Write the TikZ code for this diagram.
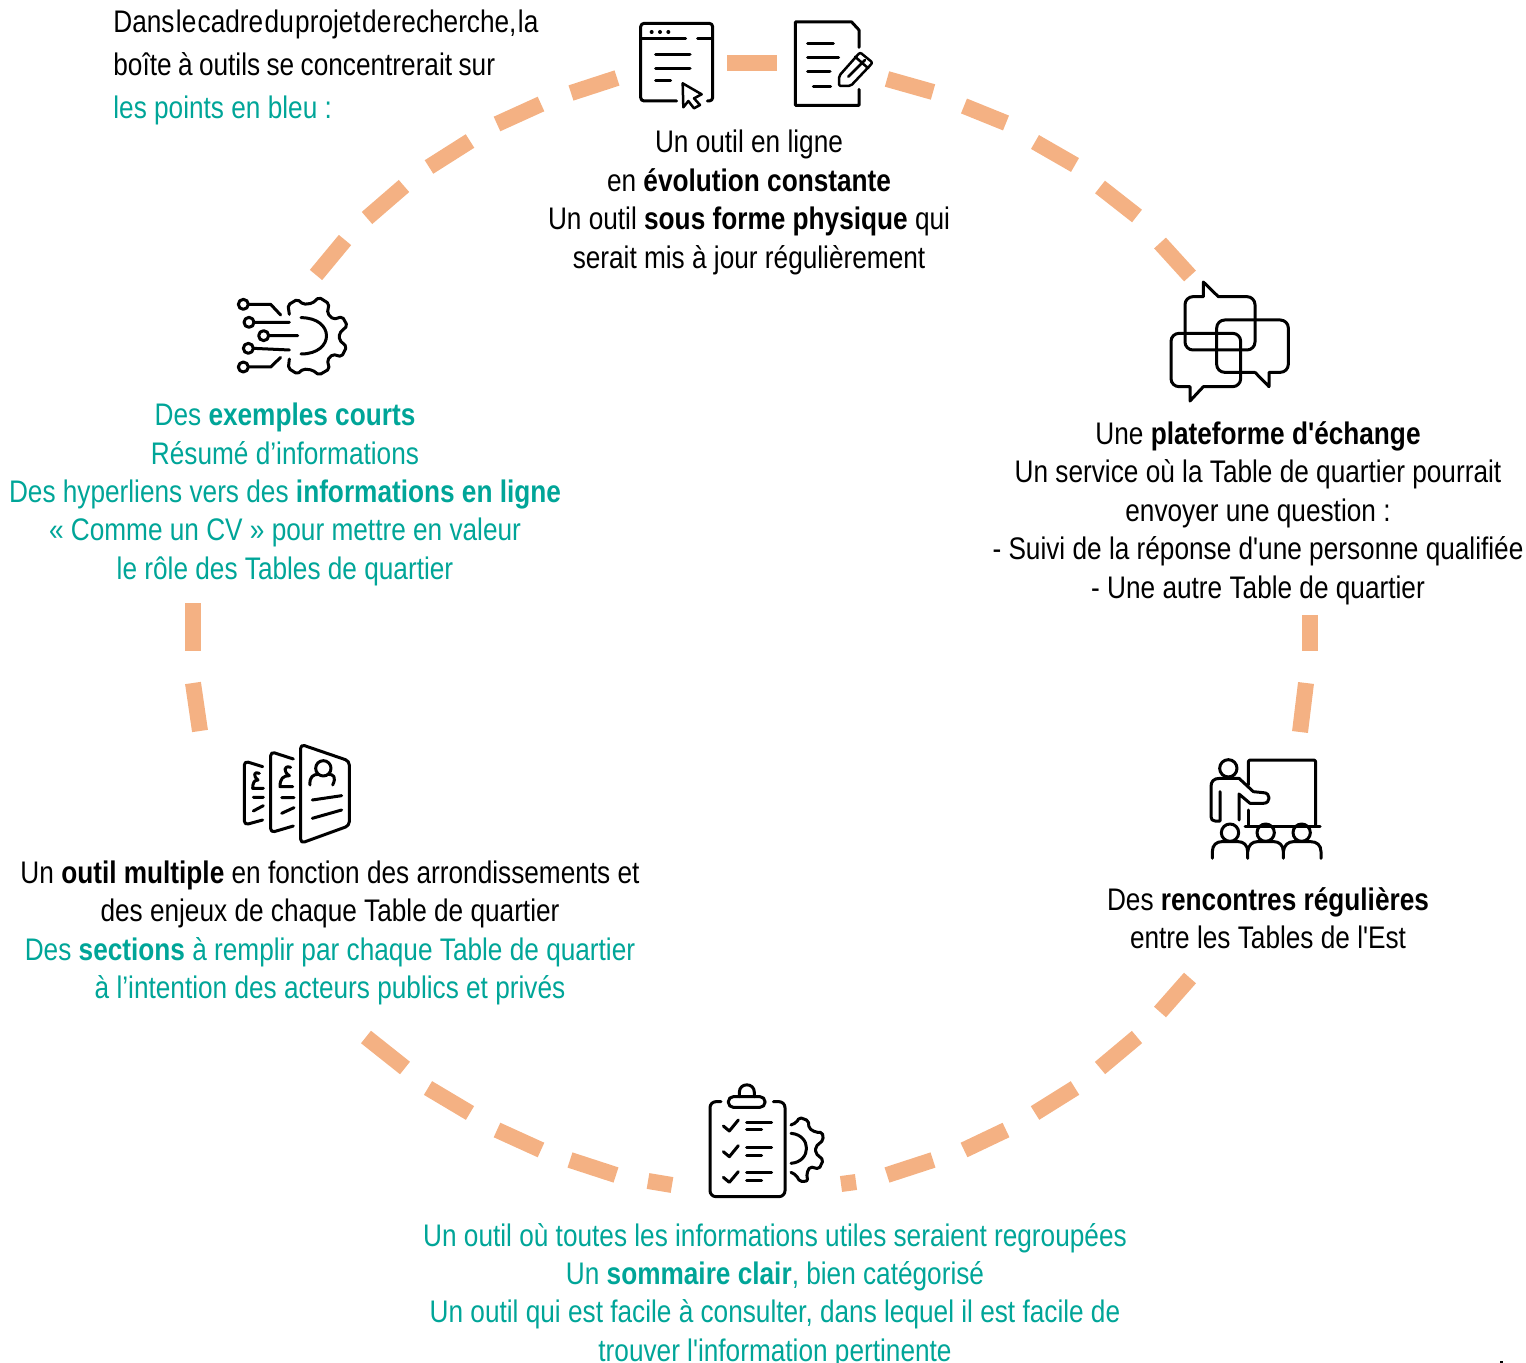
\documentclass[tikz,border=0pt]{standalone}
\usepackage{fontspec}
\setmainfont[FakeStretch=0.84,Ligatures=TeXOff]{Liberation Sans}
\definecolor{teal}{HTML}{00A598}
\definecolor{dashor}{HTML}{F4B183}
\tikzset{
  dashseg/.style={draw=dashor,line width=8pt},
  ico/.style={draw=black,line width=1.5pt,line join=round,line cap=round},
  icot/.style={draw=black,line width=1.25pt,line join=round,line cap=round},
  blocktxt/.style={inner sep=0pt,align=center,font=\fontsize{15.6}{19.2}\selectfont},
}
\begin{document}
\begin{tikzpicture}[x=0.5pt,y=-0.5pt]
\useasboundingbox (0,0) rectangle (1526,1363);
% dashes
\foreach \a/\b/\c/\d in {727/63/777/63, 887/79/933/92, 964/106/1006/123, 1035/142/1075/165, 1100/187/1137/216, 1160/243/1190/276,
  1310/615/1310/651, 1306/683/1300/732,
  1190/978/1160/1012, 1137/1037/1100/1068, 1075/1088/1035/1113, 1006/1130/964/1150, 933/1160/887/1175, 856/1182/841/1184,
  672/1185/648/1181, 616/1175/570/1160, 541/1150/497/1130, 470/1113/428/1088, 405/1068/366/1037,
  200/731/193/683, 193/651/193/603,
  316/275/345/240, 367/218/404/186, 429/167/470/141, 497/124/541/104, 571/93/617/78}
  {\path[dashseg] (\a,\b) -- (\c,\d);}
% texts
\node[blocktxt,anchor=west,align=left,font=\fontsize{15.6}{21.5}\selectfont] (intro) at (113,67.5) {{\spaceskip=0.7pt Dans le cadre du projet de recherche, la}\\{\spaceskip=3.2pt boîte à outils se concentrerait sur}\\\textcolor{teal}{les points en bleu :}};
\node[blocktxt] (top) at (749,202.5) {Un outil en ligne\\en \textbf{évolution constante}\\Un outil \textbf{sous forme physique} qui\\serait mis à jour régulièrement};
\node[blocktxt] (right) at (1258,513) {Une \textbf{plateforme d'échange}\\Un service où la Table de quartier pourrait\\envoyer une question :\\- Suivi de la réponse d'une personne qualifiée\\- Une autre Table de quartier};
\node[blocktxt,text=teal] (left) at (285,494.5) {Des \textbf{exemples courts}\\Résumé d’informations\\Des hyperliens vers des \textbf{informations en ligne}\\« Comme un CV » pour mettre en valeur\\le rôle des Tables de quartier};
\node[blocktxt] (lowleft) at (330,933) {Un \textbf{outil multiple} en fonction des arrondissements et\\des enjeux de chaque Table de quartier\\\textcolor{teal}{Des \textbf{sections} à remplir par chaque Table de quartier}\\\textcolor{teal}{à l’intention des acteurs publics et privés}};
\node[blocktxt] (lowright) at (1268,918) {Des \textbf{rencontres régulières}\\entre les Tables de l'Est};
\node[blocktxt,text=teal] (bottom) at (775,1295.5) {Un outil où toutes les informations utiles seraient regroupées\\Un \textbf{sommaire clair}, bien catégorisé\\Un outil qui est facile à consulter, dans lequel il est facile de\\trouver l'information pertinente};
% icon window + doc
\begin{scope}[shift={(620,0)},scale=0.33333]
 \path[ico,rounded corners=1.7pt] (170,303) -- (62,303) -- (62,70) -- (278,70) -- (278,303) -- (262,303);
 \path[ico] (66,115) -- (197,115) (233,115) -- (275,115);
 \fill (95,96) circle (6) (120,96) circle (6) (145,96) circle (6);
 \path[ico] (107,163) -- (210,163) (107,206) -- (210,206) (107,243) -- (152,243);
 \path[icot] (188,250) -- (245,283) -- (222,295) -- (240,315) -- (222,325) -- (205,303) -- (190,322) -- cycle;
 \path[ico] (717,142) -- (717,90) -- (695,66) -- (526,66) -- (526,316) -- (717,316) -- (717,268);
 \path[ico] (563,130) -- (640,130) (563,174) -- (656,174) (563,216) -- (630,216) (580,259) -- (632,259);
 \path[icot,rounded corners=1pt] (657,228) -- (720,157) -- (758,188) -- (692,258) -- (657,258) -- cycle;
 \path[icot] (685,230) -- (735,180) (705,170) -- (745,205);
\end{scope}
% icon chat
\begin{scope}[shift={(1150,270)},scale=0.33333]
 \path[ico] (160,80) -- (160,36) -- (205,80) [rounded corners=4pt] -- (315,80) -- (315,240) -- (105,240) -- (105,80) -- (160,80);
 \path[ico] (315,307) -- (357,350) -- (357,307) [rounded corners=4pt] -- (415,307) -- (415,150) -- (200,150) -- (200,307) -- (315,307);
 \path[ico] (120,350) -- (120,393) -- (160,350) [rounded corners=4pt] -- (272,350) -- (272,190) -- (63,190) -- (63,350) -- (120,350);
\end{scope}
% icon gear
\begin{scope}[shift={(220,285)},scale=0.33333]
 \foreach \p/\q in {70/58, 87/112, 131/152, 85/190, 70/246} {\path[ico] (\p,\q) circle (15);}
 \path[ico] (85,58) -- (152,58) -- (182,90) (102,112) -- (208,112) (146,152) -- (233,152) (100,190) -- (208,195) (85,246) -- (152,246) -- (182,217);
 \path[ico] (243,98) .. controls (345,98) and (345,207) .. (243,207);
 \path[ico,rounded corners=1pt] (208,88) -- (204,60) -- (232,43) -- (250,58) -- (277,55) -- (297,37) -- (327,56) -- (322,85) -- (340,103) -- (367,95) -- (382,122) -- (358,145) -- (358,165) -- (380,185) -- (365,215) -- (338,208) -- (322,225) -- (328,252) -- (297,270) -- (277,255) -- (250,252) -- (232,267) -- (205,250) -- (208,222);
\end{scope}
% icon CV
\begin{scope}[shift={(230,735)},scale=0.33333]
 \path[ico,rounded corners=2pt] (212,28) -- (358,78) -- (358,272) -- (212,325) -- cycle;
 \path[ico] (280,100) circle (23);
 \path[ico] (240,150) .. controls (238,125) and (250,118) .. (265,118) (295,118) .. controls (310,118) and (320,125) .. (308,150);
 \path[ico] (247,195) -- (335,182) (247,250) -- (335,225);
 \path[ico,rounded corners=2pt] (190,72) -- (122,50) -- (122,293) -- (190,273);
 \path[ico] (182,97) .. controls (160,90) and (160,110) .. (178,122) .. controls (160,122) and (150,130) .. (150,155) -- (188,155);
 \path[ico] (155,188) -- (192,188) (155,235) -- (192,218);
 \path[ico,rounded corners=2pt] (98,95) -- (43,78) -- (43,270) -- (98,255);
 \path[ico] (88,115) .. controls (72,108) and (68,122) .. (84,135) .. controls (72,135) and (68,145) .. (68,160) -- (100,160);
 \path[ico] (70,187) -- (100,187) (70,228) -- (100,212);
\end{scope}
% icon teacher
\begin{scope}[shift={(1195,750)},scale=0.33333]
 \path[ico,rounded corners=1pt] (160,105) -- (160,30) -- (362,30) -- (362,225);
 \path[ico] (160,180) -- (160,225) (150,228) -- (375,228);
 \path[ico] (100,55) circle (26);
 \path[ico] (75,125) -- (75,213) -- (60,213) .. controls (52,213) and (48,208) .. (48,200) -- (48,110) .. controls (48,95) and (55,85) .. (75,85) -- (132,85) -- (175,125) -- (205,128) .. controls (228,128) and (228,160) .. (205,160) -- (165,160) -- (132,132) -- (132,210);
 \foreach \c in {105,212,320} {\path[ico] (\c,248) circle (26);}
 \path[ico] (52,325) -- (52,305) .. controls (52,285) and (65,275) .. (80,275) -- (130,275) .. controls (145,275) and (158,285) .. (158,305) -- (158,325);
 \path[ico] (158,305) .. controls (160,285) and (172,275) .. (187,275) -- (237,275) .. controls (252,275) and (265,285) .. (265,305) -- (265,325);
 \path[ico] (265,305) .. controls (267,285) and (280,275) .. (295,275) -- (347,275) .. controls (365,275) and (378,285) .. (378,305) -- (378,325);
\end{scope}
% icon clipboard
\begin{scope}[shift={(695,1075)},scale=0.33333]
 \path[ico,rounded corners=3pt] (78,80) -- (45,80) -- (45,365) -- (270,365) -- (270,80) -- (235,80);
 \path[ico,rounded corners=2.5pt] (100,65) -- (210,65) -- (210,97) -- (100,97) -- cycle;
 \path[ico] (133,65) -- (133,52) .. controls (133,22) and (178,22) .. (178,52) -- (178,65);
 \path[ico] (85,153) -- (103,168) -- (130,135) (85,230) -- (103,245) -- (130,212) (85,307) -- (103,322) -- (130,290);
 \path[ico] (155,143) -- (230,143) (155,163) -- (200,163) (155,217) -- (230,217) (155,240) -- (200,240) (155,292) -- (230,292) (155,317) -- (200,317);
 \path[ico,rounded corners=1pt] (288,150) -- (305,142) -- (313,127) -- (340,137) -- (342,160) -- (362,172) -- (382,172) -- (385,195) -- (362,215) -- (362,235) -- (385,255) -- (372,282) -- (345,275) -- (335,295) -- (338,318) -- (315,320) -- (303,300) -- (288,292);
 \path[ico] (288,175) .. controls (350,180) and (350,260) .. (288,265);
\end{scope}
\fill (1500,1361) rectangle (1503,1363);
\end{tikzpicture}
\end{document}
